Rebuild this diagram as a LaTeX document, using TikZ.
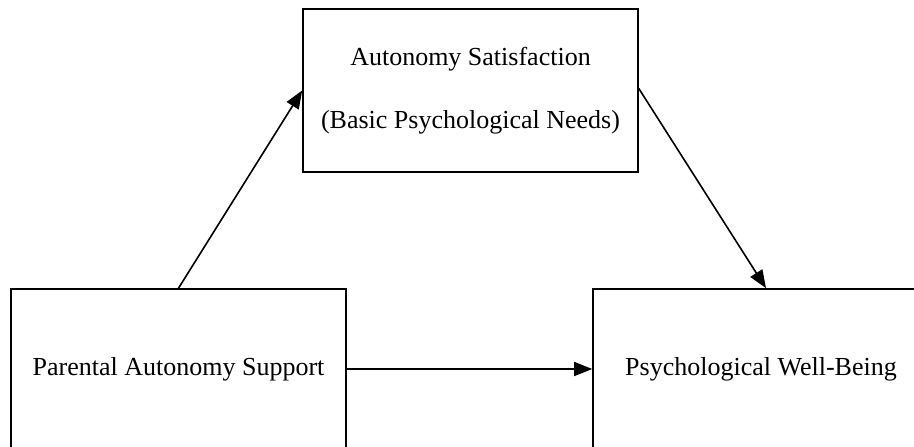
\documentclass[tikz,border=0pt]{standalone}
\usepackage{fontspec}
\setmainfont{Liberation Serif}
\usetikzlibrary{arrows.meta}
\begin{document}
\begin{tikzpicture}[x=1pt,y=1pt,
  box/.style={draw, line width=1.6pt, rectangle, inner sep=0pt, align=center,
    font=\fontsize{26}{63}\selectfont},
  conn/.style={line width=1.6pt, -{Triangle[length=18pt,width=14pt]}}]
\useasboundingbox (0,0) rectangle (914,-447);
\clip (0,0) rectangle (914,-447);
\node[box, minimum width=335pt, minimum height=163pt] (sat) at (470.5,-90.5)
  {Autonomy Satisfaction\\(Basic Psychological Needs)};
\node[box, minimum width=335pt, minimum height=160pt] (pas) at (178.5,-369)
  {Parental Autonomy Support};
\node[box, minimum width=336pt, minimum height=160pt] (pwb) at (761,-369)
  {Psychological Well-Being};
\draw[conn] (pas.north) -- (sat.west);
\draw[conn] ([yshift=2pt]sat.east) -- ([xshift=5pt]pwb.north);
\draw[conn] (pas.east) -- (pwb.west);
\end{tikzpicture}
\end{document}
